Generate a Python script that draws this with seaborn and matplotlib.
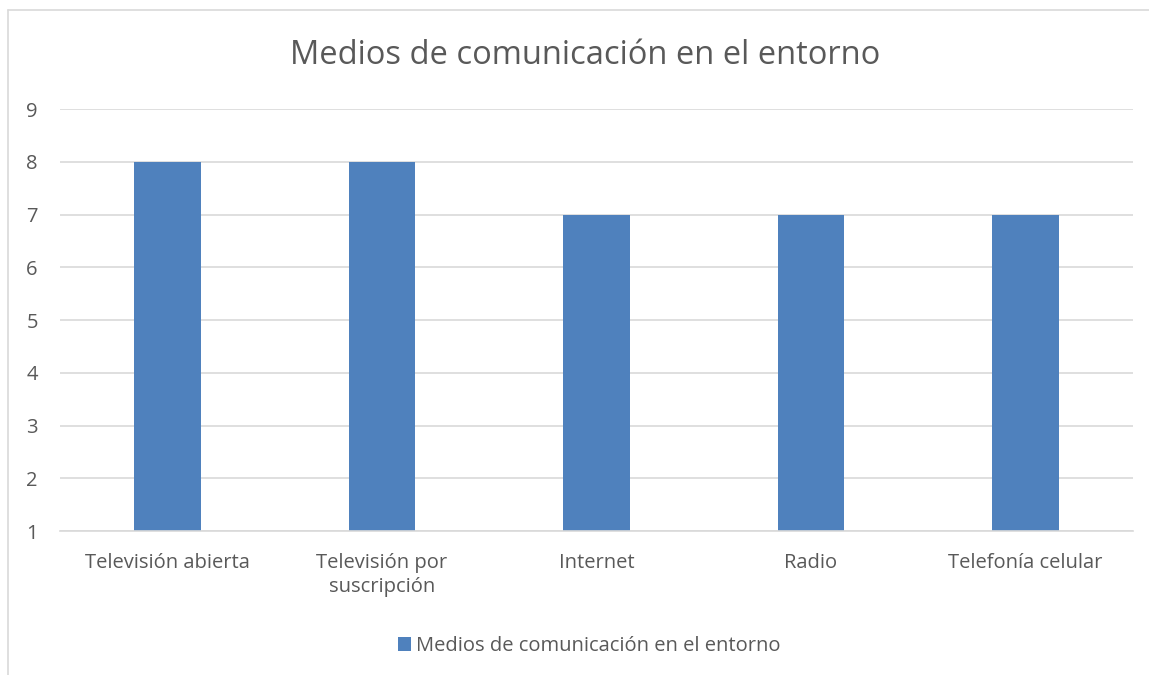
import matplotlib.pyplot as plt
import seaborn as sns
import pandas as pd
from matplotlib.lines import Line2D

# chart data
categories = ['Televisión abierta', 'Televisión por\nsuscripción', 'Internet', 'Radio', 'Telefonía celular']
values = [8, 8, 7, 7, 7]
series = 'Medios de comunicación en el entorno'

df = pd.DataFrame({'medio': categories, 'valor': values, 'serie': series})

sns.set_style('white')
plt.rcParams['font.family'] = ['Open Sans', 'DejaVu Sans']

txt = '#595959'
blue = '#4F81BD'

fig = plt.figure(figsize=(11.49, 6.75), dpi=100)
ax = fig.add_axes([0.0522, 0.2133, 0.9338, 0.6252])

sns.barplot(data=df, x='medio', y='valor', hue='serie', palette=[blue],
            width=0.31, ax=ax, saturation=1, linewidth=0)

ax.set_ylim(1, 9)
ax.set_yticks(range(1, 10))
ax.set_xlim(-0.5, len(categories) - 0.5)
ax.yaxis.grid(True, color='#d9d9d9', linewidth=1.2)
ax.set_axisbelow(True)
for s in ['top', 'right', 'left']:
    ax.spines[s].set_visible(False)
ax.spines['bottom'].set_color('#d9d9d9')
ax.spines['bottom'].set_linewidth(1.2)
ax.tick_params(axis='both', length=0, labelsize=14.5, labelcolor=txt)
ax.tick_params(axis='x', pad=16)
ax.tick_params(axis='y', pad=16)
for lab in ax.get_xticklabels():
    lab.set_linespacing(1.25)
ax.set_xlabel('')
ax.set_ylabel('')

fig.text(0.509, 0.918, series, ha='center', va='center', fontsize=23.5, color=txt)

leg = ax.legend(loc='center', bbox_to_anchor=(0.513, 0.043), bbox_transform=fig.transFigure,
                frameon=False, fontsize=14.5, handlelength=0.65, handleheight=0.65,
                handletextpad=0.25)
for t in leg.get_texts():
    t.set_color(txt)

# outer chart frame (only left and top visible in the crop)
fig.add_artist(Line2D([0.007, 0.007], [0, 0.985], color='#d9d9d9', linewidth=1.2, transform=fig.transFigure))
fig.add_artist(Line2D([0.007, 1], [0.985, 0.985], color='#d9d9d9', linewidth=1.2, transform=fig.transFigure))

fig.savefig('out.png', dpi=100, facecolor='white')
